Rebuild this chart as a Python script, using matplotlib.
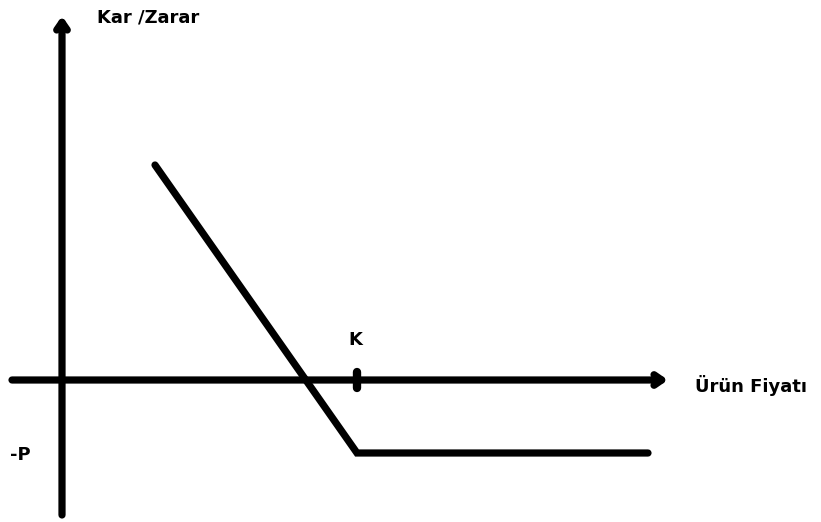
import matplotlib.pyplot as plt

# put option payoff, drawn in a pixel-like coordinate system (origin at axis cross)
K = 295
P = 73
payoff_x = [93, K, 586]
payoff_y = [215, -P, -P]

x_axis = [-50, 606]
y_axis = [-135, 364]

fig = plt.figure(figsize=(8.21, 5.22), dpi=100)
ax = fig.add_axes([0, 0, 1, 1])
ax.set_xlim(-62, 759)
ax.set_ylim(-142, 380)
ax.axis('off')

arrow = dict(arrowstyle='->,head_length=0.55,head_width=0.38', lw=5.2,
             color='black', capstyle='round', joinstyle='round',
             shrinkA=0, shrinkB=0)

# axes with arrows
ax.annotate('', xy=(x_axis[1], 0), xytext=(x_axis[0], 0), arrowprops=arrow)
ax.annotate('', xy=(0, y_axis[1]), xytext=(0, y_axis[0]), arrowprops=arrow)

# strike tick
ax.plot([K, K], [-8, 8], color='black', lw=6, solid_capstyle='round')

# payoff line
ax.plot(payoff_x, payoff_y, color='black', lw=5.2, solid_capstyle='round',
        solid_joinstyle='miter')

font = dict(fontsize=13, fontweight='bold', color='black')
ax.text(35, 362, 'Kar /Zarar', ha='left', va='center', **font)
ax.text(K - 2, 40, 'K', ha='center', va='center', **font)
ax.text(633, -5, 'Ürün Fiyatı', ha='left', va='center', **font)
ax.text(-52, -75, '-P', ha='left', va='center', **font)

fig.savefig('out.png', dpi=100)
